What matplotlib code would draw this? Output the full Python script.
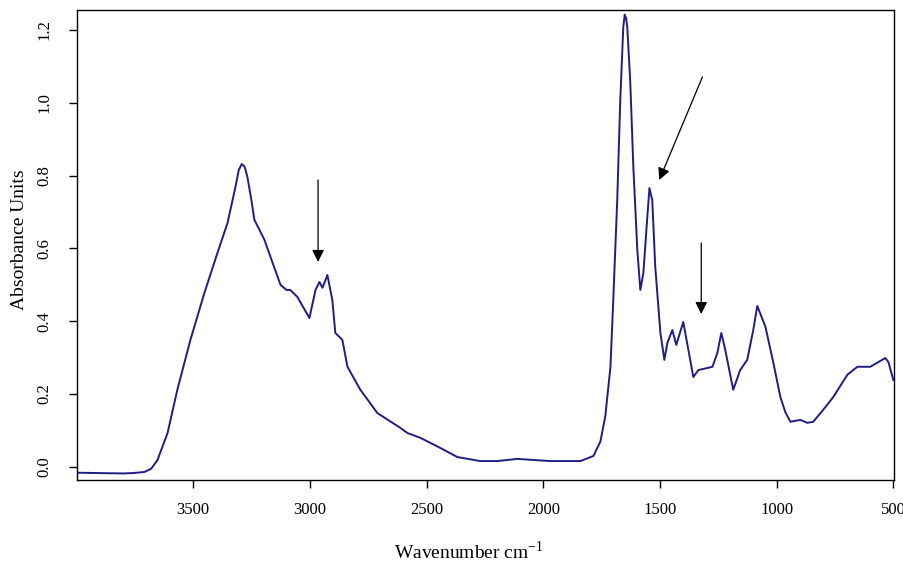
import numpy as np
import matplotlib as mpl
mpl.use('Agg')
import matplotlib.pyplot as plt

# FTIR spectrum
wavenumber = [3998, 3900, 3800, 3760, 3709, 3680, 3653, 3610, 3568, 3512,
              3452, 3396, 3353, 3319, 3305, 3292, 3280, 3268, 3250, 3238,
              3195, 3169, 3126, 3100, 3084, 3054, 3002, 2976, 2959, 2946,
              2925, 2904, 2891, 2861, 2839, 2784, 2711, 2612, 2582, 2527,
              2441, 2368, 2270, 2197, 2111, 2042, 1970, 1841, 1785, 1755,
              1734, 1712, 1700, 1683, 1670, 1657, 1651, 1645, 1640, 1627,
              1614, 1597, 1584, 1571, 1554, 1545, 1533, 1520, 1498, 1481,
              1468, 1447, 1430, 1400, 1378, 1357, 1335, 1275, 1254, 1237,
              1220, 1186, 1156, 1126, 1100, 1083, 1048, 1014, 984, 963,
              941, 898, 868, 843, 800, 757, 697, 654, 599, 534,
              521, 500]
absorbance = [-0.016, -0.017, -0.018, -0.017, -0.014, -0.005, 0.019, 0.093, 0.212, 0.349,
              0.478, 0.588, 0.670, 0.769, 0.815, 0.832, 0.825, 0.797, 0.730, 0.679,
              0.624, 0.577, 0.500, 0.486, 0.486, 0.467, 0.409, 0.486, 0.508, 0.492,
              0.527, 0.459, 0.368, 0.349, 0.275, 0.212, 0.148, 0.107, 0.093, 0.080,
              0.052, 0.027, 0.016, 0.016, 0.022, 0.019, 0.016, 0.016, 0.030, 0.070,
              0.140, 0.275, 0.459, 0.733, 1.008, 1.209, 1.242, 1.232, 1.209, 1.055,
              0.824, 0.596, 0.486, 0.533, 0.687, 0.766, 0.733, 0.549, 0.368, 0.294,
              0.341, 0.376, 0.335, 0.398, 0.321, 0.247, 0.266, 0.275, 0.313, 0.368,
              0.321, 0.212, 0.266, 0.294, 0.376, 0.442, 0.385, 0.286, 0.192, 0.151,
              0.124, 0.129, 0.121, 0.124, 0.157, 0.192, 0.253, 0.275, 0.275, 0.299,
              0.288, 0.239]

# arrows: (start wn, start abs, tip wn, tip abs)
arrows = [(2965, 0.788, 2965, 0.563),
          (1318, 1.071, 1503, 0.788),
          (1323, 0.615, 1323, 0.420)]

xticks = [3500, 3000, 2500, 2000, 1500, 1000, 500]
yticks = [0.0, 0.2, 0.4, 0.6, 0.8, 1.0, 1.2]

plt.rcParams['font.family'] = ['Liberation Serif', 'DejaVu Serif']
plt.rcParams['mathtext.fontset'] = 'custom'
plt.rcParams['mathtext.rm'] = 'Liberation Serif'

DPI = 100
fig = plt.figure(figsize=[9.04, 5.72], dpi=DPI)
ax = fig.add_axes([77 / 904, 1 - 480 / 572, (894 - 77) / 904, (480 - 10) / 572])

ax.plot(wavenumber, absorbance, color='#1e1e82', lw=1.4)

for x0, y0, x1, y1 in arrows:
    ax.annotate('', xy=(x1, y1), xytext=(x0, y0),
                arrowprops=dict(arrowstyle='-|>,head_length=0.4,head_width=0.2',
                                color='black', lw=0.9, mutation_scale=18,
                                shrinkA=0, shrinkB=0))

ax.set_xlim(3998, 497)
ax.set_ylim(-0.036, 1.255)
ax.set_xticks(xticks)
ax.set_xticklabels([str(t) for t in xticks])
ax.set_yticks(yticks)
ax.set_yticklabels(['{:.1f}'.format(t) for t in yticks], rotation=90, va='center')
ax.tick_params(axis='x', direction='out', length=6, width=1, pad=10, labelsize=12)
ax.tick_params(axis='y', direction='out', length=6, width=1, pad=12, labelsize=12)
for s in ax.spines.values():
    s.set_linewidth(1.0)

fig.text(20 / 904, 1 - 240 / 572, 'Absorbance Units', rotation=90,
         ha='center', va='center', fontsize=14)
fig.text(469 / 904, 1 - 552 / 572, 'Wavenumber cm$^{\\mathrm{-1}}$',
         ha='center', va='center', fontsize=14)

plt.savefig('out.png', dpi=DPI)
